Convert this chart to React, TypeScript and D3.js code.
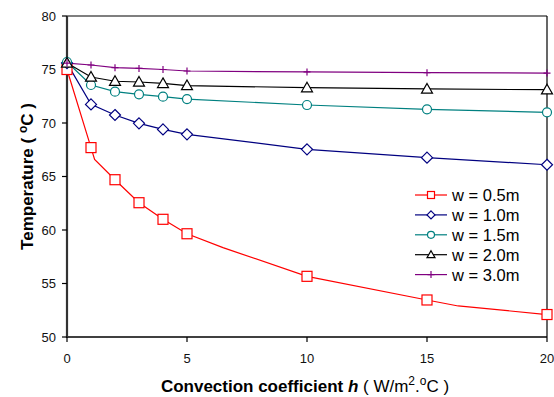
import React from 'react'
import * as d3 from 'd3'

// convection coefficient h (W/m2.oC)
const hValues = [0, 1, 2, 3, 4, 5, 10, 15, 20]

// temperature per width w
const w05 = [75.0, 67.7, 64.7, 62.55, 61.0, 59.65, 55.67, 53.46, 52.1]
const w10 = [75.6, 71.74, 70.75, 69.97, 69.4, 68.94, 67.54, 66.76, 66.1]
const w15 = [75.7, 73.55, 72.93, 72.68, 72.46, 72.24, 71.68, 71.28, 71.0]
const w20 = [75.6, 74.3, 73.9, 73.83, 73.7, 73.5, 73.3, 73.18, 73.11]
const w30 = [75.6, 75.42, 75.17, 75.1, 75.0, 74.86, 74.77, 74.7, 74.67]

// red curve has extra vertices without markers
const w05LineH = [0, 1, 1.15, 2, 3, 4, 5, 6.5, 10, 15, 16.3, 20]
const w05LineT = [75.0, 67.7, 66.6, 64.7, 62.55, 61.0, 59.65, 58.35, 55.67, 53.46, 52.9, 52.1]

const xTicks = [0, 5, 10, 15, 20]
const yTicks = [50, 55, 60, 65, 70, 75, 80]

const seriesNames = ['w = 0.5m', 'w = 1.0m', 'w = 1.5m', 'w = 2.0m', 'w = 3.0m']
const seriesColors = ['#ff0000', '#000080', '#008080', '#000000', '#800080']
const seriesMarkers = ['square', 'diamond', 'circle', 'triangle', 'plus']
const seriesValues = [w05, w10, w15, w20, w30]

const font = 'Liberation Sans, Arial, sans-serif'

const Marker = ({ type, x, y, color, s }: any) => {
  if (type === 'square')
    return <rect x={x - s / 2} y={y - s / 2} width={s} height={s} fill="#fff" stroke={color} strokeWidth={1.2} />
  if (type === 'diamond') {
    const r = s / 2 + 0.5
    return <path d={`M${x},${y - r}L${x + r},${y}L${x},${y + r}L${x - r},${y}Z`} fill="#fff" stroke={color} strokeWidth={1.2} />
  }
  if (type === 'circle')
    return <circle cx={x} cy={y} r={s / 2} fill="#fff" stroke={color} strokeWidth={1.2} />
  if (type === 'triangle') {
    const r = s / 2 + 0.5
    return <path d={`M${x},${y - r}L${x + r},${y + r * 0.75}L${x - r},${y + r * 0.75}Z`} fill="#fff" stroke={color} strokeWidth={1.2} />
  }
  const r = s / 2 - 0.5
  return <path d={`M${x - r},${y}H${x + r}M${x},${y - r}V${y + r}`} stroke={color} strokeWidth={1.2} />
}

const App = () => {
  const width = 554
  const height = 397
  const left = 67
  const right = 547
  const top = 16
  const bottom = 337

  const x = d3.scaleLinear().domain([0, 20]).range([left, right])
  const y = d3.scaleLinear().domain([50, 80]).range([bottom, top])

  const line = d3.line<[number, number]>().x((d) => x(d[0])).y((d) => y(d[1]))

  const legendX = 415
  const legendY = 195
  const legendStep = 19.9

  return (
    <div style={{ position: 'absolute', left: 0, top: 0 }}>
      <svg width={width} height={height} style={{ display: 'block', background: '#fff' }} fontFamily={font}>
        {/* frame */}
        <line x1={left} x2={right} y1={top} y2={top} stroke="#000" strokeWidth={1.2} />
        <line x1={right} x2={right} y1={top} y2={bottom} stroke="#000" strokeWidth={1.2} />
        <line x1={left} x2={right} y1={bottom} y2={bottom} stroke="#000" strokeWidth={1.4} />
        <line x1={left} x2={left} y1={top} y2={bottom + 1} stroke="#333" strokeWidth={2.2} />

        {yTicks.map((t) => (
          <g key={t}>
            <line x1={left - 5} x2={left} y1={y(t)} y2={y(t)} stroke="#000" strokeWidth={1.2} />
            <text x={56} y={y(t)} dy="0.35em" textAnchor="end" fontSize={13} fill="#111">{t}</text>
          </g>
        ))}
        {xTicks.map((t) => (
          <g key={t}>
            <line x1={x(t)} x2={x(t)} y1={bottom} y2={bottom + 5} stroke="#000" strokeWidth={1.2} />
            <text x={x(t)} y={363} textAnchor="middle" fontSize={13} fill="#111">{t}</text>
          </g>
        ))}

        {/* series */}
        {seriesValues.map((vals, i) => {
          const pts: [number, number][] =
            i === 0 ? w05LineH.map((h, j) => [h, w05LineT[j]]) : hValues.map((h, j) => [h, vals[j]])
          return (
            <path key={'l' + i} d={line(pts) || ''} fill="none" stroke={seriesColors[i]} strokeWidth={1.2} />
          )
        })}
        {seriesValues.map((vals, i) =>
          vals.map((v, j) => (
            <Marker key={'m' + i + '-' + j} type={seriesMarkers[i]} x={x(hValues[j])} y={y(v)} color={seriesColors[i]}
              s={seriesMarkers[i] === 'plus' ? 8 : seriesMarkers[i] === 'circle' ? 9 : 10} />
          ))
        )}

        {/* legend */}
        {seriesNames.map((name, i) => {
          const ly = legendY + i * legendStep
          return (
            <g key={name}>
              <line x1={legendX} x2={legendX + 32} y1={ly} y2={ly} stroke={seriesColors[i]} strokeWidth={1.2} />
              <Marker type={seriesMarkers[i]} x={legendX + 16} y={ly} color={seriesColors[i]} s={seriesMarkers[i] === 'plus' ? 8 : 7} />
              <text x={legendX + 37} y={ly} dy="0.36em" fontSize={16.5} fill="#000">{name}</text>
            </g>
          )
        })}

        {/* axis titles */}
        <text transform={`translate(33,${(top + bottom) / 2}) rotate(-90)`} textAnchor="middle" fontSize={17} fontWeight="bold" fill="#000">
          Temperature ( <tspan fontSize={12} dy={-6}>o</tspan><tspan dy={6}>C )</tspan>
        </text>
        <text x={305} y={392} textAnchor="middle" fontSize={17} fill="#000">
          <tspan fontWeight="bold">Convection coefficient </tspan>
          <tspan fontWeight="bold" fontStyle="italic">h</tspan>
          <tspan>  ( W/m</tspan>
          <tspan fontSize={12} dy={-7}>2</tspan>
          <tspan dy={7}>.</tspan>
          <tspan fontSize={12} dy={-7}>o</tspan>
          <tspan dy={7}>C )</tspan>
        </text>
      </svg>
    </div>
  )
}

export default App
